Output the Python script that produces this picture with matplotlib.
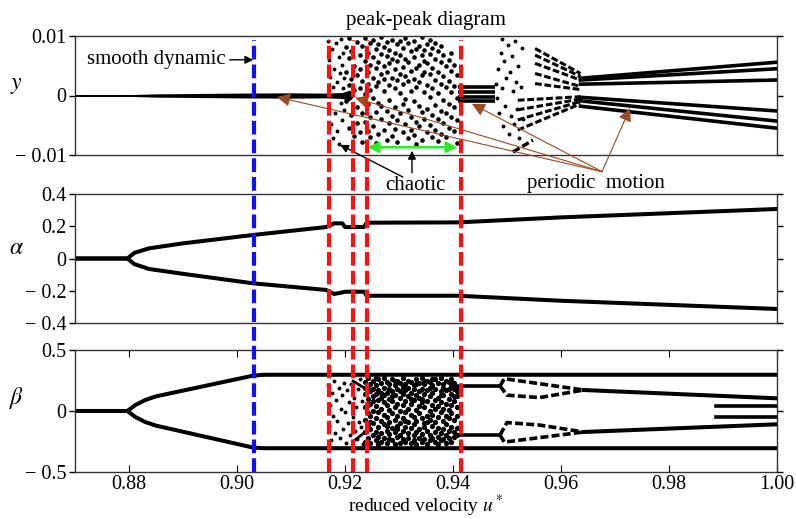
import numpy as np
import matplotlib
matplotlib.use('Agg')
import matplotlib.pyplot as plt

plt.rcParams['font.family'] = ['Liberation Serif', 'DejaVu Serif']
plt.rcParams['mathtext.fontset'] = 'stix'
plt.rcParams['font.size'] = 15

# ---------------- dados ----------------
u_min, u_max = 0.87, 1.00
u_ticks = [0.88, 0.90, 0.92, 0.94, 0.96, 0.98, 1.00]
u_ticklabels = ['0.88', '0.90', '0.92', '0.94', '0.96', '0.98', '1.00']

y_ticks = [-0.01, 0, 0.01]
y_ticklabels = ['\u2212 0.01', '0', '0.01']
a_ticks = [-0.4, -0.2, 0, 0.2, 0.4]
a_ticklabels = ['\u2212 0.4', '\u2212 0.2', '0', '0.2', '0.4']
b_ticks = [-0.5, 0, 0.5]
b_ticklabels = ['\u2212 0.5', '0', '0.5']

# linhas verticais tracejadas
u_azul = [0.9031]
u_verm = [0.9170, 0.9214, 0.9240, 0.9415]

# --- painel y ---
# faixa em torno de zero (regime suave)
faixa_u = [0.870, 0.880, 0.885, 0.900, 0.910, 0.9165, 0.9195, 0.9208, 0.9215]
faixa_h = [0.00008, 0.00015, 0.00028, 0.0004, 0.00045, 0.0004, 0.0005, 0.0009, 0.0003]

# pontos esparsos (u, y)
caos_y_esparso = [
    (0.9168, 0.0092), (0.9170, 0.0060), (0.9172, 0.0031), (0.9171, -0.0021),
    (0.9174, -0.0048), (0.9176, 0.0078), (0.9178, 0.0015), (0.9177, -0.0072),
    (0.9180, 0.0045), (0.9182, -0.0030), (0.9183, 0.0088), (0.9185, 0.0022),
    (0.9186, -0.0060), (0.9188, 0.0065), (0.9189, -0.0081), (0.9190, 0.0038),
    (0.9192, -0.0012), (0.9193, 0.0095), (0.9194, 0.0052), (0.9195, -0.0042),
    (0.9196, 0.0012), (0.9197, 0.0071), (0.9198, -0.0025), (0.9199, 0.0030),
]
# colunas densas: (u, [y...])
caos_y_colunas = [
    (0.9202, [0.0082, -0.0010, 0.0040]),
    (0.9207, [0.0063, 0.0018, -0.0055, 0.0096]),
    (0.9212, [0.0027, -0.0033, 0.0075]),
    (0.9217, [0.0050, -0.0068, 0.0010]),
    (0.9222, [0.0090, 0.0035, -0.0020, -0.0047]),
    (0.9227, [0.0068, 0.0012, -0.0062, 0.0044]),
    (0.9232, [0.0083, -0.0030, 0.0024, -0.0078]),
    (0.9237, [0.0058, 0.0003, -0.0045, 0.0097]),
    (0.9242, [0.0072, 0.0040, -0.0015, -0.0060, 0.0020]),
    (0.9247, [0.0088, 0.0052, 0.0010, -0.0036, -0.0070]),
    (0.9252, [0.0064, 0.0030, -0.0005, -0.0052, 0.0093]),
    (0.9257, [0.0078, 0.0046, 0.0016, -0.0028, -0.0080]),
    (0.9262, [0.0056, 0.0022, -0.0012, -0.0064, 0.0086]),
    (0.9267, [0.0098, 0.0070, 0.0036, -0.0040, -0.0018]),
    (0.9272, [0.0082, 0.0050, 0.0008, -0.0058, 0.0028]),
    (0.9277, [0.0066, 0.0040, -0.0026, -0.0074, 0.0090]),
    (0.9282, [0.0076, 0.0054, 0.0018, -0.0008, -0.0046]),
    (0.9287, [0.0094, 0.0062, 0.0030, -0.0034, -0.0068]),
    (0.9292, [0.0072, 0.0044, 0.0012, -0.0020, -0.0056]),
    (0.9297, [0.0086, 0.0058, 0.0026, -0.0042, -0.0078]),
    (0.9302, [0.0068, 0.0036, 0.0004, -0.0030, 0.0092]),
    (0.9307, [0.0080, 0.0048, 0.0020, -0.0014, -0.0062]),
    (0.9312, [0.0062, 0.0032, -0.0006, -0.0048, 0.0096]),
    (0.9317, [0.0088, 0.0056, 0.0024, -0.0024, -0.0072]),
    (0.9322, [0.0074, 0.0042, 0.0008, -0.0036, -0.0058]),
    (0.9327, [0.0092, 0.0064, 0.0028, -0.0010, -0.0066]),
    (0.9332, [0.0078, 0.0046, 0.0014, -0.0044, -0.0082]),
    (0.9337, [0.0084, 0.0052, 0.0022, -0.0018, -0.0052]),
    (0.9342, [0.0098, 0.0068, 0.0034, -0.0028, -0.0074]),
    (0.9347, [0.0076, 0.0040, 0.0006, -0.0040, 0.0058]),
    (0.9352, [0.0086, 0.0054, 0.0018, -0.0022, -0.0062]),
    (0.9357, [0.0070, 0.0036, -0.0002, -0.0050, 0.0094]),
    (0.9362, [0.0080, 0.0046, 0.0012, -0.0032, -0.0070]),
    (0.9367, [0.0062, 0.0026, -0.0016, -0.0058, 0.0088]),
    (0.9372, [0.0074, 0.0040, 0.0004, -0.0040, -0.0076]),
    (0.9377, [0.0056, 0.0020, -0.0026, -0.0064, 0.0084]),
    (0.9382, [0.0068, 0.0032, -0.0008, -0.0046]),
    (0.9387, [0.0050, 0.0014, -0.0030, -0.0070]),
    (0.9392, [0.0060, 0.0024, -0.0014, -0.0054]),
    (0.9397, [0.0042, 0.0006, -0.0036, 0.0072]),
    (0.9402, [0.0052, 0.0016, -0.0020, -0.0060]),
    (0.9407, [0.0034, -0.0004, -0.0042, -0.0080]),
]
# pontos espalhados depois da janela periodica
caos_y_pos = [
    (0.9480, 0.0020), (0.9482, -0.0005), (0.9484, 0.0045), (0.9486, -0.0030),
    (0.9488, 0.0072), (0.9490, 0.0095), (0.9491, 0.0012), (0.9493, -0.0052),
    (0.9495, 0.0058), (0.9497, -0.0018), (0.9499, 0.0030), (0.9501, 0.0085),
    (0.9503, -0.0065), (0.9505, 0.0040), (0.9507, -0.0035), (0.9509, 0.0066),
    (0.9511, 0.0008), (0.9513, -0.0048), (0.9515, 0.0092), (0.9517, 0.0022),
    (0.9519, -0.0022), (0.9521, 0.0050), (0.9523, -0.0072), (0.9525, 0.0015),
    (0.9527, 0.0080), (0.9529, -0.0040),
]
# janela periodica 0.941-0.948
janela_u = [0.9410, 0.9477]
janela_y = [0.0015, 0.00064, -0.0002, -0.0010]
diag_u = [0.9511, 0.9548]
diag_y = [-0.0095, -0.0075]
# grupos tracejados antes de 0.964
gsup_u = [0.9552, 0.9636]
gsup_ini = [0.0079, 0.0068, 0.0054, 0.0037, 0.0020]
gsup_fim = [0.0037, 0.0032, 0.0026, 0.0015, 0.0010]
ginf_u = [0.9520, 0.9636]
ginf_ini = [-0.0008, -0.0024, -0.0041, -0.0058]
ginf_fim = [-0.0002, -0.0006, -0.0010, -0.0014]
# ramos periodicos finais
final_u = [0.9636, 1.00]
final_ini = [0.0029, 0.0026, 0.0019, -0.0003, -0.0009, -0.0018]
final_fim = [0.0056, 0.0045, 0.0026, -0.0026, -0.0043, -0.0055]

# --- painel alpha ---
alfa_u = [0.870, 0.8797, 0.8810, 0.8837, 0.890, 0.903, 0.9165, 0.9180, 0.9195,
          0.9200, 0.9235, 0.9240, 0.941, 0.960, 1.000]
alfa_sup = [0, 0, 0.035, 0.063, 0.094, 0.146, 0.195, 0.218, 0.218,
            0.195, 0.195, 0.222, 0.224, 0.255, 0.307]
alfa_inf = [0, 0, -0.035, -0.065, -0.095, -0.154, -0.195, -0.220, -0.210,
            -0.206, -0.206, -0.231, -0.231, -0.262, -0.313]

# --- painel beta ---
beta_u = [0.870, 0.8797, 0.8812, 0.8830, 0.885, 0.903, 0.905, 1.000]
beta_sup = [0, 0, 0.05, 0.09, 0.12, 0.29, 0.297, 0.297]
beta_inf = [0, 0, -0.05, -0.09, -0.12, -0.30, -0.305, -0.305]
beta_diag_u = [0.9215, 0.9242]
beta_diag_sup = [0.245, 0.172]
beta_diag_inf = [-0.250, -0.156]
caos_b_esparso = [
    (0.9168, 0.21), (0.9170, -0.12), (0.9172, 0.05), (0.9174, -0.24),
    (0.9176, 0.15), (0.9178, -0.04), (0.9180, 0.25), (0.9182, -0.18),
    (0.9184, 0.09), (0.9186, -0.08), (0.9188, 0.19), (0.9190, -0.22),
    (0.9192, 0.02), (0.9194, 0.13), (0.9196, -0.15), (0.9198, 0.23),
    (0.9200, -0.01), (0.9202, -0.26), (0.9204, 0.17), (0.9206, -0.10),
    (0.9208, 0.07), (0.9210, -0.20), (0.9212, 0.22), (0.9214, -0.05),
    (0.9216, 0.11), (0.9218, -0.16), (0.9220, 0.03), (0.9222, -0.23),
    (0.9224, 0.18), (0.9226, -0.09), (0.9228, 0.26), (0.9230, -0.13),
    (0.9232, 0.08), (0.9234, -0.27),
]
caos_b_colunas = [
    (0.9237, [0.24, 0.14, 0.03, -0.07, -0.17, -0.25, 0.19]),
    (0.9242, [0.27, 0.10, -0.02, -0.12, -0.22, 0.20, 0.05]),
    (0.9247, [0.22, 0.16, 0.06, -0.04, -0.15, -0.26, -0.09]),
    (0.9252, [0.25, 0.12, 0.00, -0.10, -0.20, 0.18, 0.08]),
    (0.9257, [0.21, 0.14, 0.04, -0.06, -0.17, -0.24, 0.27]),
    (0.9262, [0.26, 0.17, 0.09, -0.01, -0.13, -0.21, -0.27]),
    (0.9267, [0.23, 0.11, 0.02, -0.08, -0.18, -0.25, 0.15]),
    (0.9272, [0.27, 0.19, 0.07, -0.03, -0.11, -0.22, 0.13]),
    (0.9277, [0.24, 0.15, 0.05, -0.05, -0.16, -0.26, -0.12]),
    (0.9282, [0.22, 0.10, 0.01, -0.09, -0.19, 0.18, -0.23]),
    (0.9287, [0.26, 0.16, 0.08, -0.02, -0.14, -0.24, 0.12]),
    (0.9292, [0.21, 0.13, 0.03, -0.07, -0.17, -0.27, 0.25]),
    (0.9297, [0.25, 0.18, 0.06, -0.04, -0.12, -0.21, -0.15]),
    (0.9302, [0.23, 0.11, 0.00, -0.10, -0.20, 0.16, -0.26]),
    (0.9307, [0.27, 0.14, 0.05, -0.06, -0.16, -0.23, 0.20]),
    (0.9312, [0.22, 0.17, 0.08, -0.01, -0.13, -0.25, -0.08]),
    (0.9317, [0.25, 0.12, 0.02, -0.09, -0.18, 0.19, -0.22]),
    (0.9322, [0.24, 0.15, 0.06, -0.03, -0.14, -0.26, 0.10]),
    (0.9327, [0.21, 0.18, 0.09, -0.05, -0.11, -0.20, -0.24]),
    (0.9332, [0.26, 0.13, 0.01, -0.08, -0.17, 0.22, -0.27]),
    (0.9337, [0.23, 0.16, 0.04, -0.02, -0.15, -0.22, 0.11]),
    (0.9342, [0.27, 0.10, 0.07, -0.06, -0.19, -0.25, 0.18]),
    (0.9347, [0.22, 0.14, 0.03, -0.10, -0.13, -0.23, 0.25]),
    (0.9352, [0.25, 0.17, 0.08, -0.04, -0.16, -0.27, -0.09]),
    (0.9357, [0.24, 0.12, 0.00, -0.07, -0.20, 0.19, -0.24]),
    (0.9362, [0.21, 0.15, 0.05, -0.03, -0.12, -0.22, 0.26]),
    (0.9367, [0.26, 0.18, 0.09, -0.09, -0.17, -0.25, 0.02]),
    (0.9372, [0.23, 0.11, 0.04, -0.05, -0.14, -0.21, -0.27]),
    (0.9377, [0.27, 0.16, 0.07, -0.01, -0.18, -0.24, 0.13]),
    (0.9382, [0.22, 0.13, 0.02, -0.08, -0.15, -0.23, 0.19]),
    (0.9387, [0.25, 0.17, 0.06, -0.04, -0.11, -0.20, -0.26]),
    (0.9392, [0.24, 0.10, 0.01, -0.06, -0.16, -0.22, 0.18]),
    (0.9397, [0.21, 0.14, 0.05, -0.02, -0.13, -0.25, 0.26]),
    (0.9402, [0.23, 0.18, 0.08, -0.07, -0.17, -0.21, 0.12]),
    (0.9407, [0.19, 0.12, 0.03, -0.04, -0.14, -0.20, 0.16]),
]
# janela e ramos apos o caos
bjan_u = [0.9405, 0.9487]
bjan_sup, bjan_inf = 0.205, -0.197
bsup_a_u = [0.9487, 0.9495, 0.9642]      # tracejado de cima
bsup_a_v = [0.205, 0.265, 0.172]
bsup_b_u = [0.9487, 0.9500, 0.9560, 0.9642]
bsup_b_v = [0.205, 0.130, 0.110, 0.172]
binf_a_u = [0.9487, 0.9495, 0.9642]
binf_a_v = [-0.197, -0.255, -0.172]
binf_b_u = [0.9487, 0.9500, 0.9560, 0.9642]
binf_b_v = [-0.197, -0.095, -0.115, -0.172]
bfin_u = [0.9642, 1.00]
bfin_sup = [0.172, 0.104]
bfin_inf = [-0.172, -0.109]
bcurto_u = [0.9887, 1.00]
bcurto_v = [0.041, -0.047]

# ---------------- figura ----------------
fig = plt.figure(figsize=(7.96, 5.19), dpi=100)
H = 519.0
esq, larg = 75 / 796, 702 / 796
ax1 = fig.add_axes([esq, (H - 155) / H, larg, 119 / H])
ax2 = fig.add_axes([esq, (H - 323) / H, larg, 129 / H])
ax3 = fig.add_axes([esq, (H - 472) / H, larg, 122 / H])

cor = 'k'
lw = 2.5
tracejado = (0, (2.2, 0.9))


def pontos(ax, lista, ms=2.8):
    arr = np.array(lista)
    ax.plot(arr[:, 0], arr[:, 1], 'o', color=cor, ms=ms, mew=0)


def colunas(ax, tabela, ms=3.3):
    uu, vv = [], []
    for u, ys in tabela:
        uu += [u] * len(ys)
        vv += ys
    ax.plot(uu, vv, 'o', color=cor, ms=ms, mew=0)


# painel y
fu = np.array(faixa_u)
fh = np.array(faixa_h)
ax1.fill_between(fu, -fh, fh, color=cor, lw=0)
ax1.plot(fu, np.zeros_like(fu), color=cor, lw=1.4)
pontos(ax1, caos_y_esparso)
colunas(ax1, caos_y_colunas, ms=3.3)
pontos(ax1, caos_y_pos)
for v in janela_y:
    ax1.plot(janela_u, [v, v], color=cor, lw=2.6, solid_capstyle='butt')
ax1.plot(diag_u, diag_y, color=cor, lw=lw, ls=tracejado)
for a, b in zip(gsup_ini, gsup_fim):
    ax1.plot(gsup_u, [a, b], color=cor, lw=2.2, ls=tracejado)
for a, b in zip(ginf_ini, ginf_fim):
    ax1.plot(ginf_u, [a, b], color=cor, lw=2.2, ls=tracejado)
for a, b in zip(final_ini, final_fim):
    ax1.plot(final_u, [a, b], color=cor, lw=2.6)

# painel alpha
ax2.plot(alfa_u, alfa_sup, color=cor, lw=2.9)
ax2.plot(alfa_u, alfa_inf, color=cor, lw=2.9)

# painel beta
ax3.plot(beta_u, beta_sup, color=cor, lw=2.9)
ax3.plot(beta_u, beta_inf, color=cor, lw=2.9)
pontos(ax3, caos_b_esparso)
colunas(ax3, caos_b_colunas, ms=3.8)
ax3.plot(beta_diag_u, beta_diag_sup, color=cor, lw=2)
ax3.plot(beta_diag_u, beta_diag_inf, color=cor, lw=2)
ax3.plot(bjan_u, [bjan_sup] * 2, color=cor, lw=2.6)
ax3.plot(bjan_u, [bjan_inf] * 2, color=cor, lw=2.6)
for uu, vv in [(bsup_a_u, bsup_a_v), (bsup_b_u, bsup_b_v),
               (binf_a_u, binf_a_v), (binf_b_u, binf_b_v)]:
    ax3.plot(uu, vv, color=cor, lw=2.6, ls=tracejado)
ax3.plot(bfin_u, bfin_sup, color=cor, lw=2.9)
ax3.plot(bfin_u, bfin_inf, color=cor, lw=2.9)
for v in bcurto_v:
    ax3.plot(bcurto_u, [v, v], color=cor, lw=2.6)

# eixos
for ax, tk, tl, lim, nome in [(ax1, y_ticks, y_ticklabels, (-0.01, 0.01), '$y$'),
                              (ax2, a_ticks, a_ticklabels, (-0.4, 0.4), r'$\alpha$'),
                              (ax3, b_ticks, b_ticklabels, (-0.5, 0.5), r'$\beta$')]:
    ax.set_xlim(u_min, u_max)
    ax.set_ylim(*lim)
    ax.set_yticks(tk)
    ax.set_yticklabels(tl, fontsize=14.5)
    ax.tick_params(axis='y', which='both', direction='out', length=4, width=1,
                   pad=2, right=True, labelright=False)
    ax.set_ylabel(nome, rotation=0, fontsize=17)
    ax.yaxis.set_label_coords(-0.083, 0.5)
    for s in ax.spines.values():
        s.set_linewidth(1.0)
        s.set_color('#333333')

for ax in (ax1, ax2):
    ax.set_xticks([])

ax3.set_xticks(u_ticks)
ax3.set_xticklabels(u_ticklabels, fontsize=14.5)
ax3.tick_params(axis='x', direction='in', length=5, top=True, pad=2)
ax3.set_xlabel('reduced velocity $u^*$', fontsize=14, va='center')
ax3.xaxis.set_label_coords(0.5, -0.282)
ax1.set_title('peak-peak diagram', fontsize=15, pad=8)

# linhas verticais atravessando os paineis
axv = fig.add_axes([esq, (H - 472) / H, larg, (472 - 40) / H])
axv.set_xlim(u_min, u_max)
axv.set_ylim(0, 1)
axv.axis('off')
axv.patch.set_alpha(0)
for u in u_azul:
    axv.axvline(u, color='#1010ff', lw=3, ls=(0, (3.3, 1.2)))
for u in u_verm:
    axv.axvline(u, color='#ff1010', lw=3, ls=(0, (3.3, 1.2)))

# anotacoes
marrom = '#9c4a24'
ax1.annotate('smooth dynamic', xy=(0.9030, 0.0060), xytext=(0.8979, 0.0060),
             ha='right', va='center', fontsize=15, annotation_clip=False,
             arrowprops=dict(arrowstyle='-|>', color='k', lw=1, mutation_scale=12,
                             shrinkA=1, shrinkB=0))
origem = (0.9676, -0.0128)
for alvo in [(0.9074, -0.00025), (0.9219, -0.0004), (0.9435, -0.0014), (0.9728, -0.0021)]:
    ax1.annotate('', xy=alvo, xytext=origem, annotation_clip=False,
                 arrowprops=dict(arrowstyle='-|>', color=marrom, lw=0.8,
                                 mutation_scale=20, shrinkA=0, shrinkB=0))
ax1.text(0.9665, -0.0148, 'periodic  motion', ha='center', va='center',
         fontsize=15, clip_on=False)
ax1.text(0.9330, -0.0152, 'chaotic', ha='center', va='center', fontsize=15,
         clip_on=False)
ax1.annotate('', xy=(0.9191, -0.0083), xytext=(0.9307, -0.0137), annotation_clip=False,
             arrowprops=dict(arrowstyle='-|>', color='k', lw=1, mutation_scale=12,
                             shrinkA=0, shrinkB=0))
ax1.annotate('', xy=(0.9324, -0.0093), xytext=(0.9324, -0.0130), annotation_clip=False,
             arrowprops=dict(arrowstyle='-|>', color='k', lw=1, mutation_scale=12,
                             shrinkA=0, shrinkB=0))
ax1.annotate('', xy=(0.9242, -0.0087), xytext=(0.9408, -0.0087), annotation_clip=False,
             arrowprops=dict(arrowstyle='<|-|>', color='#2ee82e', lw=1.8,
                             mutation_scale=16, shrinkA=0, shrinkB=0))

fig.savefig('out.png', dpi=100)
